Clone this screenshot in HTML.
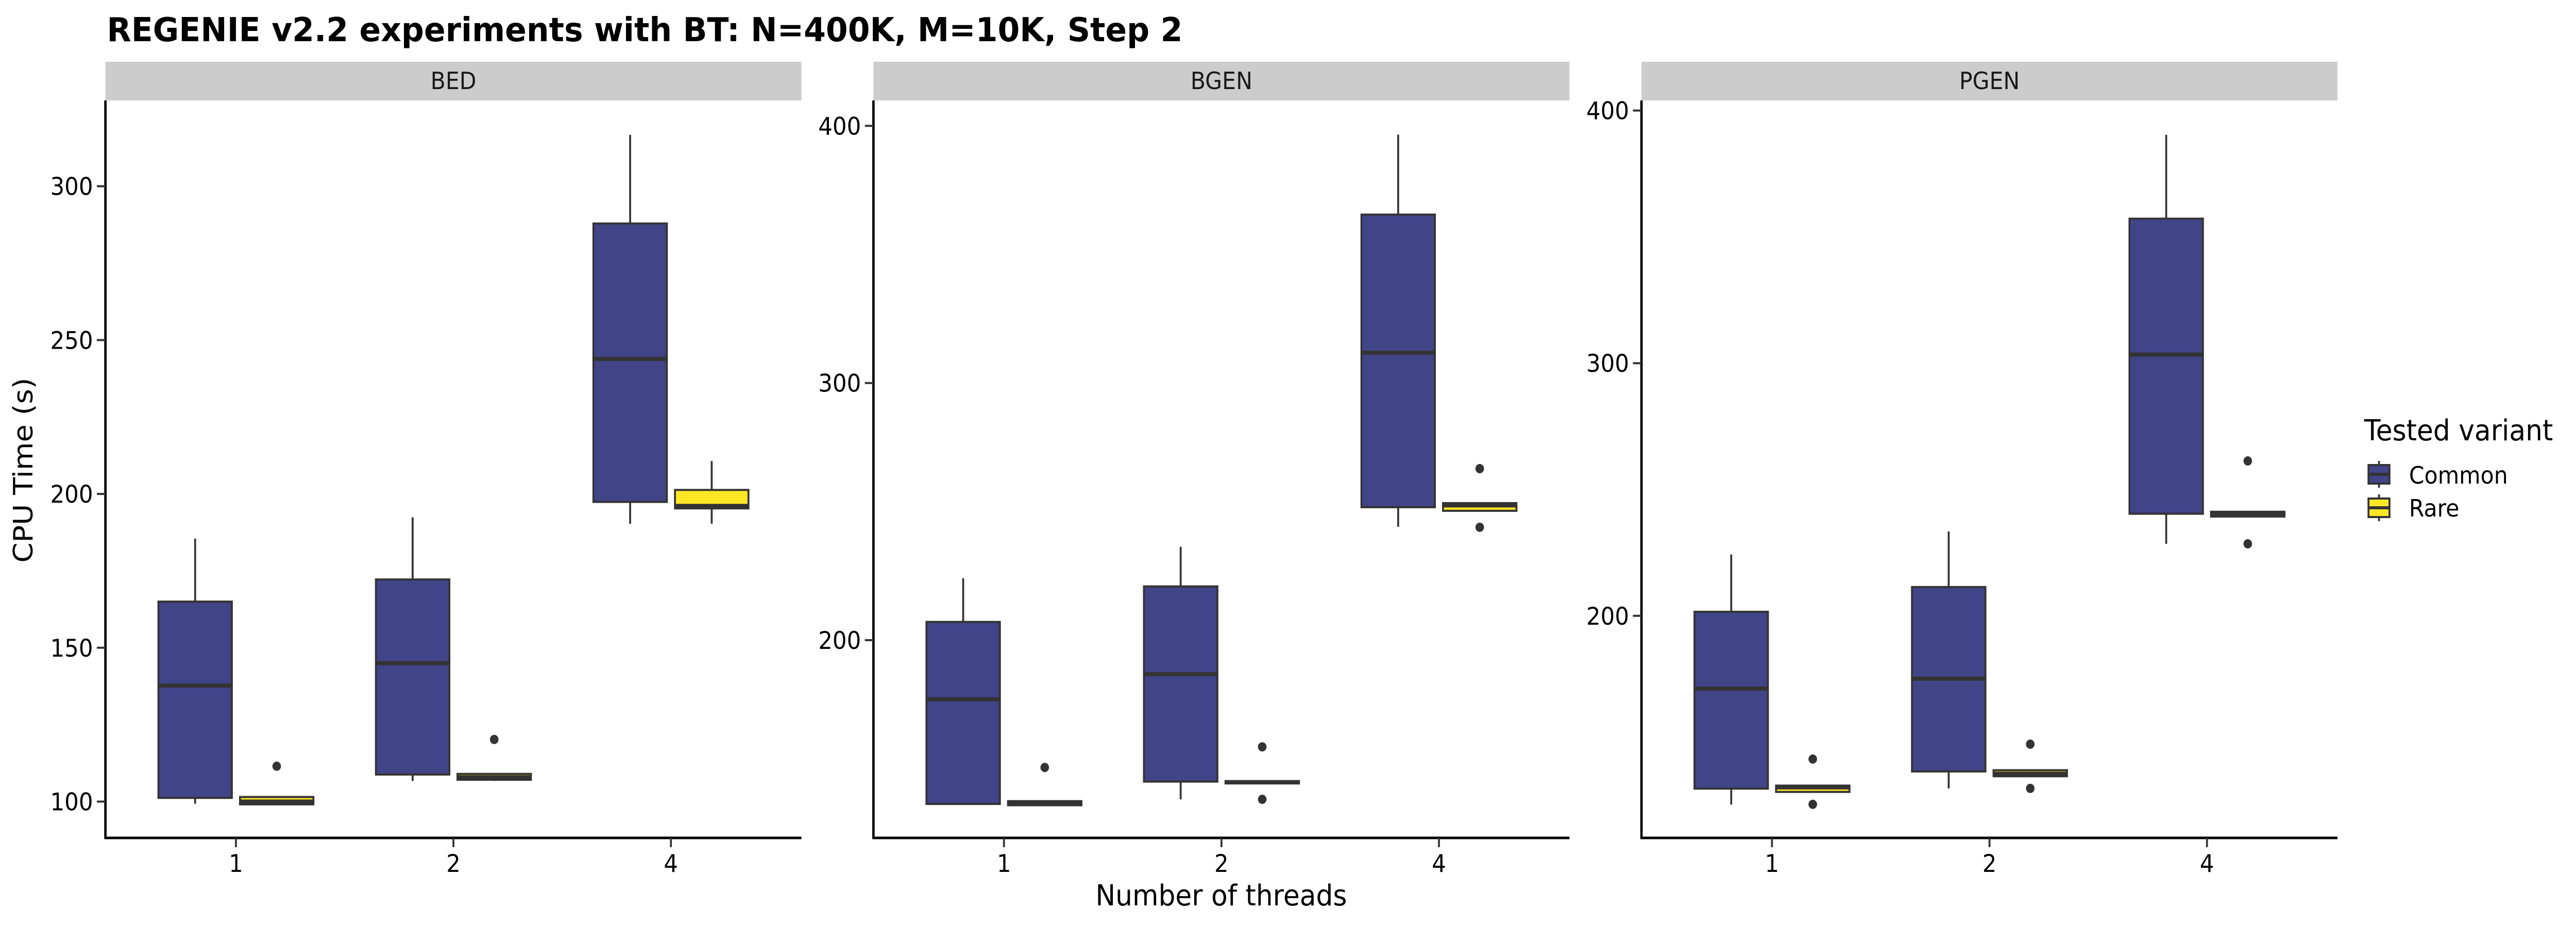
<!DOCTYPE html>
<html><head><meta charset="utf-8"><style>
html,body{margin:0;padding:0;background:#fff;width:100%;height:100%;overflow:hidden}
svg{display:block;width:100vw;height:100vh;font-family:"DejaVu Sans","Liberation Sans",sans-serif}
</style></head><body>
<svg id="chart" viewBox="0 0 5400 1800" preserveAspectRatio="none" xmlns="http://www.w3.org/2000/svg">
<text x="224" y="80" font-size="64" font-weight="bold" fill="#000" textLength="2255" lengthAdjust="spacingAndGlyphs">REGENIE v2.2 experiments with BT: N=400K, M=10K, Step 2</text>
<text transform="translate(68,913) rotate(-90)" text-anchor="middle" font-size="56" fill="#000">CPU Time (s)</text>
<text x="2560" y="1758" text-anchor="middle" font-size="56" fill="#000">Number of threads</text>
<g>
<text x="4956" y="855" font-size="56" fill="#000">Tested variant</text>
<g>
<line x1="4987" x2="4987" y1="895" y2="947" stroke="#333" stroke-width="4"/>
<rect x="4965" y="903" width="44" height="36" fill="#414487" stroke="#333" stroke-width="4"/>
<line x1="4965" x2="5009" y1="921" y2="921" stroke="#333" stroke-width="6"/>
<text x="5050" y="939" font-size="46" fill="#000">Common</text></g>
<g>
<line x1="4987" x2="4987" y1="960" y2="1012" stroke="#333" stroke-width="4"/>
<rect x="4965" y="968" width="44" height="36" fill="#FDE725" stroke="#333" stroke-width="4"/>
<line x1="4965" x2="5009" y1="986" y2="986" stroke="#333" stroke-width="6"/>
<text x="5050" y="1003" font-size="46" fill="#000">Rare</text></g>
</g>
</svg>
<script>
const facets = ["BED","BGEN","PGEN"];
const threads = ["1","2","4"];
const groups = ["Common","Rare"];
const yTicksBED = [100,150,200,250,300];
const yTicksBGEN = [200,300,400];
const yTicksPGEN = [200,300,400];
// each box: [lowWhisker, Q1, median, Q3, highWhisker]
const bedCommon = [[99.3,101.2,137.7,165,185.5],[106.7,108.8,145,172.2,192.4],[190.3,197.4,243.9,287.9,316.7]];
const bedRare = [[99.1,99.1,100,101.5,101.5],[106.7,107.1,107.9,109,109],[190.3,195.3,196.1,201.3,210.7]];
const bgenCommon = [[136.2,136.3,177,207.1,224.1],[138.1,145,186.8,220.9,236.3],[244.1,251.7,311.8,365.5,396.6]];
const bgenRare = [[135.8,135.8,136.6,137.4,137.4],[144.3,144.3,144.7,145.2,145.2],[250.3,250.3,252.4,253.3,253.3]];
const pgenCommon = [[125.3,131.6,171.2,201.6,224.3],[131.7,138.4,175.1,211.4,233.4],[228.5,240.4,303.4,357.2,390.4]];
const pgenRare = [[130.3,130.3,132.1,132.8,132.8],[136.5,136.5,137.5,138.9,138.9],[239.3,239.3,240.2,241.2,241.2]];
const bedOutliers = [[],[[0,111.5]],[],[[1,120.2]],[],[]];
const bgenOutliers = [[],[[0,150.5]],[],[[1,158.5],[1,138.1]],[],[[2,266.7],[2,243.9]]];
const pgenOutliers = [[],[[0,143.3],[0,125.4]],[],[[1,149.2],[1,131.7]],[],[[2,261.3],[2,228.5]]];
const yDomains = [[88.2,327.9],[123.1,409.9],[112.1,404]];

const NS = "http://www.w3.org/2000/svg";
const svgRoot = document.getElementById('chart');
const panelLeft = [221,1831,3441], panelW = 1459, plotTop = 195, plotBottom = 1627;
const colors = {Common:"#414487", Rare:"#FDE725"};
function mk(tag, attrs, parent){const e=document.createElementNS(NS,tag);for(const k in attrs)e.setAttribute(k,attrs[k]);(parent||svgRoot).appendChild(e);return e;}

const allBoxes = [[bedCommon,bedRare],[bgenCommon,bgenRare],[pgenCommon,pgenRare]];
const allTicks = [yTicksBED,yTicksBGEN,yTicksPGEN];
const allOut = [bedOutliers,bgenOutliers,pgenOutliers];

facets.forEach((f,fi)=>{
  const L = panelLeft[fi];
  const [d0,d1] = yDomains[fi];
  const y = v => plotBottom - (v-d0)/(d1-d0)*(plotBottom-plotTop);
  const x = i => L + (i + 1 - 0.4)/3.2*panelW;
  const g = mk('g',{});
  
  
  const strip = mk('rect',{x:L,y:120,width:panelW,height:75,fill:"#cccccc"},g);
  
  
  const st = mk('text',{x:L+panelW/2,y:173,'text-anchor':'middle','font-size':46,fill:'#1a1a1a'},g);
  st.textContent = f;
  
  
  const ya = mk('line',{x1:L,x2:L,y1:plotTop,y2:plotBottom+2,stroke:'#000','stroke-width':5},g);
  
  
  const xa = mk('line',{x1:L-2,x2:L+panelW,y1:plotBottom,y2:plotBottom,stroke:'#000','stroke-width':5},g);
  
  
  allTicks[fi].forEach(t=>{
    const yy=y(t);
    const tk = mk('line',{x1:L-18,x2:L,y1:yy,y2:yy,stroke:'#333','stroke-width':4},g);
    
    
    const tl = mk('text',{x:L-26,y:yy+17,'text-anchor':'end','font-size':47,fill:'#000'},g);
    tl.textContent = t;
    
    
  });
  threads.forEach((t,ti)=>{
    const xx=x(ti);
    const tk = mk('line',{x1:xx,x2:xx,y1:plotBottom,y2:plotBottom+18,stroke:'#333','stroke-width':4},g);
    
    
    const tl = mk('text',{x:xx,y:plotBottom+66,'text-anchor':'middle','font-size':47,fill:'#000'},g);
    tl.textContent = t;
    
    
    groups.forEach((gr,gi)=>{
      const b = allBoxes[fi][gi][ti];
      const off = (gi===0?-1:1)*0.1875*panelW/3.2;
      const cx = xx+off, hw = 77;
      const bg = mk('g',{},g);
      
      
      mk('line',{x1:cx,x2:cx,y1:y(b[4]),y2:y(b[0]),stroke:'#333','stroke-width':4},bg);
      mk('rect',{x:cx-hw,y:y(b[3]),width:hw*2,height:Math.max(1,y(b[1])-y(b[3])),fill:colors[gr],stroke:'#333','stroke-width':4},bg);
      mk('line',{x1:cx-hw,x2:cx+hw,y1:y(b[2]),y2:y(b[2]),stroke:'#333','stroke-width':8},bg);
      allOut[fi][ti*2+gi].forEach(o=>{
        const c = mk('circle',{cx:cx,cy:y(o[1]),r:9,fill:'#333'},g);
        
        
      });
    });
  });
});
</script>
</body></html>
